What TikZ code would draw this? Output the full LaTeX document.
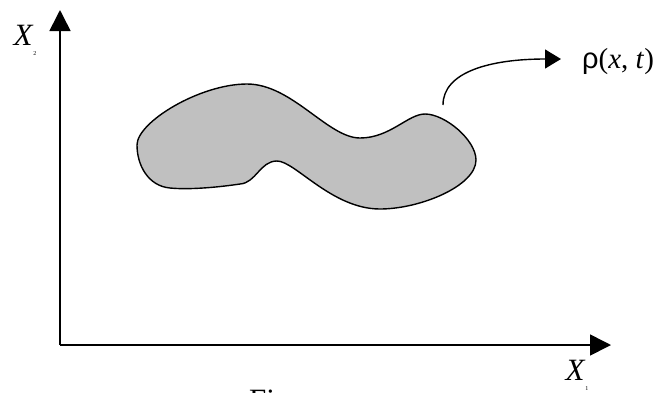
\documentclass[tikz,border=0pt]{standalone}
\usepackage{fontspec}
\setmainfont{Liberation Serif}
\newfontfamily\arialf{Liberation Sans}
\usetikzlibrary{arrows.meta}
\begin{document}
\begin{tikzpicture}[x=1pt,y=-1pt,
  axis/.style={line width=1.6pt,-{Triangle[length=21pt,width=21pt]}},
  flow/.style={line width=1.4pt,-{Triangle[length=16pt,width=19pt]}},
  blob/.style={fill={rgb,255:red,192;green,192;blue,192},draw=black,line width=1.4pt},
  lbl/.style={inner sep=0pt,font=\fontsize{31}{34}\selectfont},
  rholbl/.style={inner sep=0pt,font=\fontsize{29}{32}\selectfont}]
\clip (0,0) rectangle (659,392);
\useasboundingbox (0,0) rectangle (659,392);
\coordinate (O) at (60,345);
\coordinate (Ytip) at (60,10);
\coordinate (Xtip) at (611,345);
\draw[axis] (O) -- (Ytip);
\draw[axis] (O) -- (Xtip);
\node[lbl,anchor=center] (x2) at (25,40) {\textit{X}\raisebox{-10pt}{\fontsize{6}{6}\selectfont 2}};
\node[lbl,anchor=center] (x1) at (577,375) {\textit{X}\raisebox{-10pt}{\fontsize{6}{6}\selectfont 1}};
\draw[blob] (137,145) .. controls (137,122) and (200,84) .. (247,84)
  .. controls (292,84) and (328,138) .. (360,138)
  .. controls (390,138) and (408,114) .. (425,114)
  .. controls (445,114) and (476,140) .. (476,160)
  .. controls (476,186) and (420,209) .. (380,209)
  .. controls (332,209) and (295,161) .. (277,161)
  .. controls (260,161) and (256,183) .. (240,184)
  .. controls (220,187) and (190,190) .. (170,188)
  .. controls (148,186) and (137,165) .. cycle;
\coordinate (cstart) at (443,105);
\node[rholbl,anchor=west] (rho) at (582,62) {{\arialf ρ}(\textit{x}, \textit{t})};
\coordinate (cend) at (561,59);
\draw[flow] (cstart) .. controls (443,72) and (490,59) .. (cend);
\node[lbl,anchor=base west] (fig) at (249,410) {Fi};
\end{tikzpicture}
\end{document}
